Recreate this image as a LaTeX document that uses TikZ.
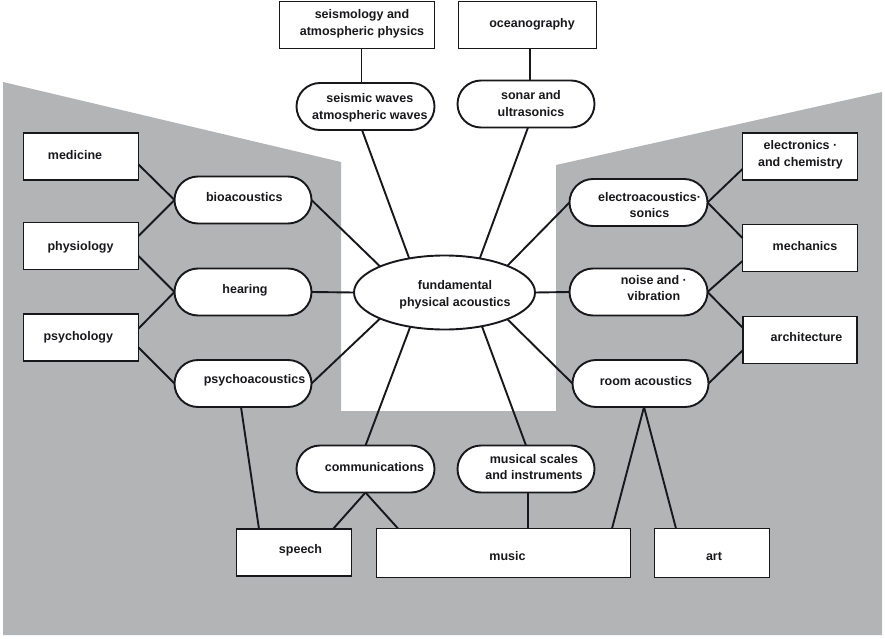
\documentclass[tikz,border=0pt]{standalone}
\usepackage{fontspec}
\setmainfont{Liberation Sans}
\usetikzlibrary{shapes.misc,shapes.geometric,calc}
\definecolor{bggray}{RGB}{178,180,182}
\definecolor{ink}{RGB}{24,24,28}
\begin{document}
\begin{tikzpicture}[x=1pt,y=-1pt,
  every node/.style={inner sep=0pt, outer sep=0pt},
  box/.style={draw=ink, line width=1.9pt, fill=white, rectangle, minimum height=47pt},
  pill/.style={draw=ink, line width=1.9pt, fill=white, rounded rectangle, minimum width=137pt, minimum height=47pt},
  oval/.style={draw=ink, line width=1.9pt, fill=white, ellipse},
  lbl/.style={font=\bfseries\fontsize{12.5}{16.7}\selectfont, text=ink, align=center},
  link/.style={draw=ink, line width=1.9pt}]
\useasboundingbox (0,0) rectangle (885,639);
\fill[bggray] (3,82) -- (341,162) -- (341,411) -- (556,411) -- (556,165) -- (882,92) -- (882,635) -- (3,635) -- cycle;

% top
\node[box, minimum width=155pt, label={[lbl,xshift=5pt,yshift=1.3pt]center:{seismology and\\atmospheric physics}}] (seisbox) at (357,25) {};
\node[box, minimum width=138pt, label={[lbl,xshift=4.5pt,yshift=1pt]center:{oceanography}}] (oceanbox) at (527.5,25) {};
\node[pill, minimum width=138pt, label={[lbl,xshift=4.3pt,yshift=-1pt]center:{seismic waves\\atmospheric waves}}] (seis) at (365.5,106.5) {};
\node[pill, label={[lbl,xshift=5pt,yshift=0.5pt]center:{sonar and\\ultrasonics}}] (sonar) at (526,104) {};

% left
\node[box, minimum width=115pt, label={[lbl,xshift=-6pt,yshift=1.5pt]center:{medicine}}] (med) at (81,156.5) {};
\node[box, minimum width=115pt, label={[lbl,xshift=-0.5pt,yshift=-1.5pt]center:{physiology}}] (phys) at (81,246) {};
\node[box, minimum width=115pt, label={[lbl,xshift=-2.7pt,yshift=0pt]center:{psychology}}] (psych) at (81,337.5) {};
\node[pill, label={[lbl,xshift=1.3pt,yshift=3pt]center:{bioacoustics}}] (bio) at (243,200) {};
\node[pill, label={[lbl,xshift=2pt,yshift=1.5pt]center:{hearing}}] (hear) at (243,292) {};
\node[pill, label={[lbl,xshift=11.5pt,yshift=3.5pt]center:{psychoacoustics}}] (psyac) at (243,383.5) {};

% centre
\node[oval, minimum width=181pt, minimum height=74pt, label={[lbl,xshift=10.5pt,yshift=-2.5pt]center:{fundamental\\physical acoustics}}] (fund) at (444.5,292.5) {};

% right
\node[pill, minimum width=138pt, label={[lbl,xshift=11pt,yshift=-2.5pt]center:{electroacoustics·\\sonics}}] (electro) at (638.5,202.5) {};
\node[pill, minimum width=138pt, label={[lbl,xshift=15.3pt,yshift=4pt]center:{noise and ·\\vibration}}] (noise) at (638.5,292) {};
\node[pill, minimum width=136pt, label={[lbl,xshift=5.5pt,yshift=2pt]center:{room acoustics}}] (room) at (640.5,383.5) {};
\node[box, minimum width=115pt, label={[lbl,xshift=0.5pt,yshift=1.5pt]center:{electronics ·\\and chemistry}}] (elec) at (800,156.5) {};
\node[box, minimum width=115pt, label={[lbl,xshift=5pt,yshift=1.5pt]center:{mechanics}}] (mech) at (800,248) {};
\node[box, minimum width=114pt, label={[lbl,xshift=6.5pt,yshift=3pt]center:{architecture}}] (arch) at (800,340) {};

% bottom
\node[pill, minimum width=138pt, label={[lbl,xshift=9pt,yshift=1.5pt]center:{communications}}] (comm) at (365.5,469) {};
\node[pill, label={[lbl,xshift=8pt,yshift=2pt]center:{musical scales\\and instruments}}] (musical) at (526,469) {};
\node[box, minimum width=115pt, label={[lbl,xshift=6.5pt,yshift=2pt]center:{speech}}] (speech) at (294,552.5) {};
\node[box, minimum width=254pt, minimum height=49pt, label={[lbl,xshift=4pt,yshift=-3.5pt]center:{music}}] (music) at (503.5,553) {};
\node[box, minimum width=115pt, minimum height=49pt, label={[lbl,xshift=2pt,yshift=-3.5pt]center:{art}}] (art) at (712,553) {};

% connectors
\draw[link] ($(seisbox.south)+(4.5,0)$) -- ($(seis.north)+(-4,0)$);
\draw[link] ($(seis.south)+(-3.5,0)$) -- (fund.136);
\draw[link] ($(oceanbox.south)+(2.5,0)$) -- ($(sonar.north)+(4,0)$);
\draw[link] ($(sonar.south)+(2,0)$) -- (fund.44);
\draw[link] ($(med.east)+(0,8)$) -- (bio.west);
\draw[link] ($(phys.east)+(0,-10)$) -- (bio.west);
\draw[link] ($(phys.east)+(0,10)$) -- (hear.west);
\draw[link] ($(psych.east)+(0,-9)$) -- (hear.west);
\draw[link] ($(psych.east)+(0,10)$) -- (psyac.west);
\draw[link] (bio.east) -- (fund.158);
\draw[link] (hear.east) -- (fund.west);
\draw[link] (psyac.east) -- (fund.202);
\draw[link] (fund.225) -- (comm.north);
\draw[link] ($(psyac.south)+(-2,0)$) -- ($(speech.north)+(-35,0)$);
\draw[link] (comm.south) -- ($(speech.north)+(39,0)$);
\draw[link] (comm.south) -- ($(music.north)+(-105.5,0)$);
\draw[link] (fund.318) -- (musical.north);
\draw[link] ($(musical.south)+(2,0)$) -- ($(music.north)+(24.5,0)$);
\draw[link] (fund.23) -- (electro.west);
\draw[link] (fund.east) -- (noise.west);
\draw[link] (fund.337) -- (room.west);
\draw[link] ($(room.south)+(3.5,0)$) -- ($(music.north)+(108.5,0)$);
\draw[link] ($(room.south)+(3.5,0)$) -- ($(art.north)+(-36,0)$);
\draw[link] (electro.east) -- ($(elec.west)+(0,12.5)$);
\draw[link] (electro.east) -- ($(mech.west)+(0,-10)$);
\draw[link] (noise.east) -- ($(mech.west)+(0,13)$);
\draw[link] (noise.east) -- ($(arch.west)+(0,-12)$);
\draw[link] (room.east) -- ($(arch.west)+(0,10)$);
\end{tikzpicture}
\end{document}
